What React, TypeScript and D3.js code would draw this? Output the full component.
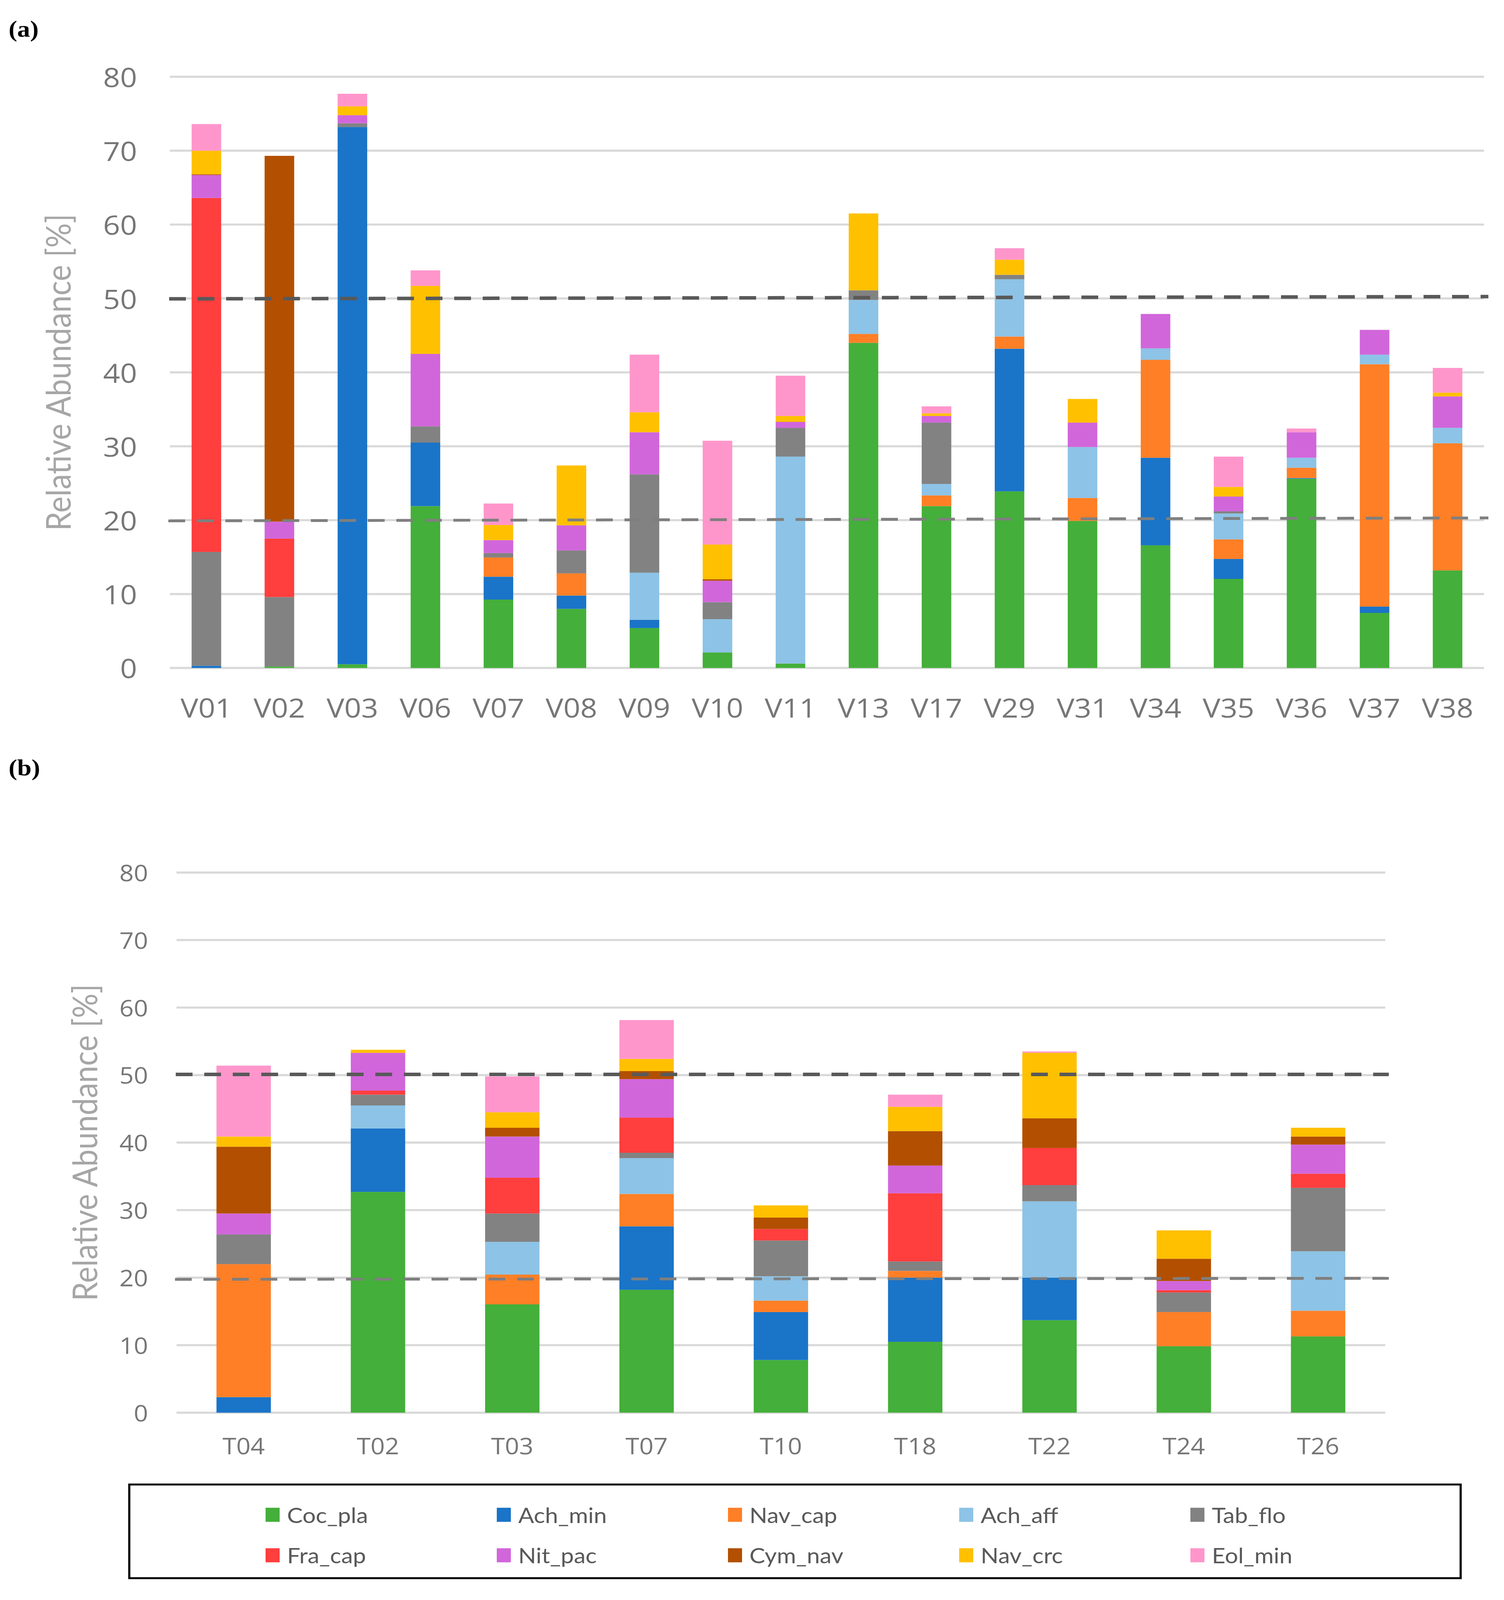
import * as d3 from "d3"

const W = 3851
const H = 4544

const species = ["Coc_pla", "Ach_min", "Nav_cap", "Ach_aff", "Tab_flo", "Fra_cap", "Nit_pac", "Cym_nav", "Nav_crc", "Eol_min"]
const colors = ["#44AF3A", "#1A74C8", "#FF7F26", "#8DC3E6", "#828282", "#FF3E3E", "#D166DB", "#B34F00", "#FFC000", "#FF96CB"]

const yTicks = [0, 10, 20, 30, 40, 50, 60, 70, 80]

// panel (a)
const samplesA = ["V01", "V02", "V03", "V06", "V07", "V08", "V09", "V10", "V11", "V13", "V17", "V29", "V31", "V34", "V35", "V36", "V37", "V38"]
const cocPlaA = [0, 0.2, 0.5, 21.9, 9.25, 8.0, 5.4, 2.1, 0.6, 44.0, 21.9, 23.9, 19.9, 16.6, 12.05, 25.6, 7.45, 13.2]
const achMinA = [0.3, 0, 72.7, 8.6, 3.1, 1.8, 1.1, 0, 0, 0, 0, 19.3, 0, 11.85, 2.7, 0.1, 0.85, 0]
const navCapA = [0, 0, 0, 0, 2.6, 3.0, 0, 0, 0, 1.2, 1.45, 1.65, 3.1, 13.25, 2.65, 1.4, 32.8, 17.2]
const achAffA = [0, 0, 0, 0, 0, 0, 6.4, 4.5, 28.0, 4.6, 1.55, 7.75, 6.9, 1.55, 3.5, 1.35, 1.3, 2.1]
const tabFloA = [15.4, 9.4, 0.5, 2.2, 0.6, 3.1, 13.3, 2.3, 3.9, 1.3, 8.3, 0.6, 0, 0, 0.3, 0, 0, 0]
const fraCapA = [47.9, 7.9, 0, 0, 0, 0, 0, 0, 0, 0, 0, 0, 0, 0, 0, 0, 0, 0]
const nitPacA = [3.1, 2.3, 1.1, 9.8, 1.75, 3.4, 5.7, 2.9, 0.8, 0, 0.9, 0, 3.3, 4.65, 2.0, 3.45, 3.35, 4.25]
const cymNavA = [0.1, 49.5, 0, 0, 0, 0, 0, 0.2, 0, 0, 0, 0, 0, 0, 0, 0, 0, 0]
const navCrcA = [3.2, 0, 1.2, 9.2, 2.05, 8.1, 2.7, 4.7, 0.8, 10.4, 0.35, 2.05, 3.2, 0, 1.3, 0, 0, 0.5]
const eolMinA = [3.6, 0, 1.7, 2.1, 2.9, 0, 7.8, 14.05, 5.45, 0, 0.95, 1.55, 0, 0, 4.1, 0.5, 0, 3.35]

// panel (b)
const samplesB = ["T04", "T02", "T03", "T07", "T10", "T18", "T22", "T24", "T26"]
const cocPlaB = [0, 32.7, 16.05, 18.2, 7.8, 10.5, 13.7, 9.85, 11.3]
const achMinB = [2.3, 9.4, 0, 9.4, 7.1, 9.5, 6.3, 0, 0]
const navCapB = [19.7, 0, 4.4, 4.8, 1.7, 1.0, 0, 5.05, 3.8]
const achAffB = [0, 3.4, 4.85, 5.3, 3.6, 0, 11.3, 0, 8.8]
const tabFloB = [4.4, 1.6, 4.2, 0.8, 5.3, 1.4, 2.4, 2.9, 9.4]
const fraCapB = [0, 0.6, 5.3, 5.2, 1.7, 10.1, 5.5, 0.35, 2.1]
const nitPacB = [3.1, 5.6, 6.1, 5.7, 0, 4.1, 0, 1.35, 4.3]
const cymNavB = [9.9, 0, 1.3, 1.2, 1.7, 5.1, 4.4, 3.3, 1.2]
const navCrcB = [1.5, 0.45, 2.3, 1.8, 1.8, 3.6, 9.7, 4.2, 1.3]
const eolMinB = [10.5, 0, 5.3, 5.75, 0, 1.8, 0.2, 0, 0]

// hand drawn threshold lines: value at left end, value at right end
const upperLineA = [49.95, 50.25]
const lowerLineA = [19.9, 20.3]
const upperLineB = [50.1, 50.1]
const lowerLineB = [19.75, 19.9]

const seriesA = [cocPlaA, achMinA, navCapA, achAffA, tabFloA, fraCapA, nitPacA, cymNavA, navCrcA, eolMinA]
const seriesB = [cocPlaB, achMinB, navCapB, achAffB, tabFloB, fraCapB, nitPacB, cymNavB, navCrcB, eolMinB]

interface PanelProps {
  samples: string[]
  series: number[][]
  x0: number
  x1: number
  yBottom: number
  yTop: number
  tickSize: number
  tickRight: number
  labelGap: number
  titleX: number
  upper: number[]
  lower: number[]
  dashExtend: number
}

function Panel(p: PanelProps) {
  const x = d3.scaleBand<string>().domain(p.samples).range([p.x0, p.x1]).paddingInner(0.595).paddingOuter(0.2975)
  const y = d3.scaleLinear().domain([0, 80]).range([p.yBottom, p.yTop])

  const table = p.samples.map((s, i) => {
    const row: Record<string, any> = { sample: s }
    species.forEach((k, j) => (row[k] = p.series[j][i]))
    return row
  })
  const stacked = d3.stack<Record<string, any>>().keys(species)(table)

  const titleY = (p.yBottom + p.yTop) / 2

  return (
    <g>
      {/* gridlines */}
      {yTicks.map((t) => (
        <line key={"g" + t} x1={p.x0} x2={p.x1} y1={y(t)} y2={y(t)} stroke="#D9D9D9" strokeWidth={6} />
      ))}
      {/* tick labels */}
      {yTicks.map((t) => (
        <text
          key={"t" + t}
          x={p.tickRight}
          y={y(t)}
          textAnchor="end"
          dominantBaseline="central"
          fontFamily="'Open Sans', sans-serif"
          fontSize={p.tickSize}
          fill="#767676"
        >
          {t}
        </text>
      ))}
      {/* bars */}
      {stacked.map((layer, j) => (
        <g key={layer.key} fill={colors[j]}>
          {layer.map((d, i) =>
            d[1] - d[0] > 0 ? (
              <rect
                key={i}
                x={x(p.samples[i])}
                width={x.bandwidth()}
                y={y(d[1])}
                height={y(d[0]) - y(d[1])}
              />
            ) : null,
          )}
        </g>
      ))}
      {/* category labels */}
      {p.samples.map((s) => (
        <text
          key={"x" + s}
          x={(x(s) || 0) + x.bandwidth() / 2}
          y={p.yBottom + p.labelGap}
          textAnchor="middle"
          dominantBaseline="central"
          fontFamily="'Open Sans', sans-serif"
          fontSize={p.tickSize}
          fill="#767676"
        >
          {s}
        </text>
      ))}
      {/* axis title */}
      <text
        transform={`translate(${p.titleX},${titleY}) rotate(-90)`}
        textAnchor="middle"
        dominantBaseline="central"
        fontFamily="Lato, sans-serif"
        fontSize={87}
        fill="#A6A6A6"
      >
        Relative Abundance [%]
      </text>
      {/* threshold lines */}
      <line
        x1={p.x0 - 2}
        x2={p.x1 + p.dashExtend}
        y1={y(p.upper[0])}
        y2={y(p.upper[1])}
        stroke="#595959"
        strokeWidth={10}
        strokeDasharray="43 30"
      />
      <line
        x1={p.x0 - 4}
        x2={p.x1 + p.dashExtend}
        y1={y(p.lower[0])}
        y2={y(p.lower[1])}
        stroke="#7F7F7F"
        strokeWidth={8}
        strokeDasharray="43 30"
      />
    </g>
  )
}

function Legend() {
  const left = 331
  const right = 3740
  const top = 4216
  const bottom = 4482
  const col = d3.scaleLinear().domain([0, 1]).range([680, 1272])
  const rows = [4302, 4417]
  return (
    <g>
      <rect x={left} y={top} width={right - left} height={bottom - top} fill="none" stroke="#000" strokeWidth={5.5} />
      {species.map((s, i) => {
        const cx = col(i % 5)
        const cy = rows[Math.floor(i / 5)]
        return (
          <g key={s}>
            <rect x={cx} y={cy - 20} width={36} height={40} fill={colors[i]} />
            <text
              x={cx + 55}
              y={cy}
              dominantBaseline="central"
              fontFamily="Lato, sans-serif"
              fontSize={60}
              fill="#595959"
            >
              {s}
            </text>
          </g>
        )
      })}
    </g>
  )
}

export default function App() {
  // the browser viewport is shorter than the chart, so fit the drawing into it
  const viewH = typeof window !== "undefined" ? Math.min(H, window.innerHeight || H) : H
  return (
    <svg
      width={W}
      height={viewH}
      viewBox={`0 0 ${W} ${H}`}
      preserveAspectRatio="none"
      style={{ display: "block", marginLeft: -8, marginTop: -8, background: "#fff" }}
    >
      <rect x={0} y={0} width={W} height={H} fill="#fff" />
      <text x={22} y={104} fontFamily="'Liberation Serif', serif" fontWeight="bold" fontSize={66} fill="#000">
        (a)
      </text>
      <Panel
        samples={samplesA}
        series={seriesA}
        x0={435}
        x1={3800}
        yBottom={1897}
        yTop={218}
        tickSize={76}
        tickRight={351}
        labelGap={111}
        titleX={147}
        upper={upperLineA}
        lower={lowerLineA}
        dashExtend={11}
      />
      <text x={22} y={2202} fontFamily="'Liberation Serif', serif" fontWeight="bold" fontSize={66} fill="#000">
        (b)
      </text>
      <Panel
        samples={samplesB}
        series={seriesB}
        x0={452}
        x1={3547}
        yBottom={4012}
        yTop={2478}
        tickSize={64}
        tickRight={379}
        labelGap={93}
        titleX={215}
        upper={upperLineB}
        lower={lowerLineB}
        dashExtend={9}
      />
      <Legend />
    </svg>
  )
}
